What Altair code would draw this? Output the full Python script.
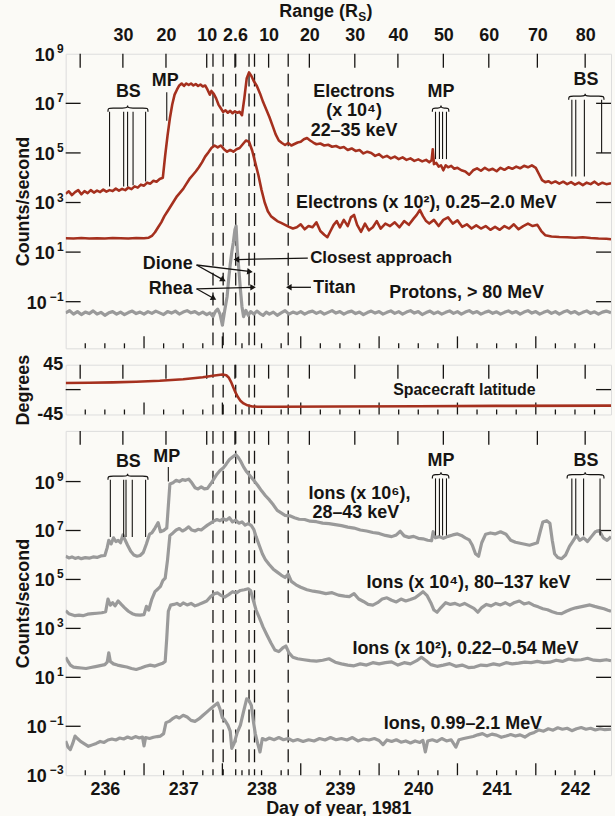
import math
import altair as alt
import pandas as pd

FONT = "Liberation Sans"
INK = "#161412"
RED = "#a5301e"
GRAY = "#9a9a9a"
BG = "#fbfaf6"

W = 548
H_TOP, H_MID, H_BOT = 296, 50, 346
X_DOMAIN = [236.0, 242.96]
TOP_LOG = (-2.88, 9.0)
BOT_LOG = (-3.0, 11.07)
MID_DOMAIN = [-45, 45]

# ---------------- data (day of year, log10 counts/s) ----------------
elec_keV = [
    (236.00, 3.35), (236.04, 3.45), (236.08, 3.3), (236.12, 3.42), (236.16, 3.5), (236.20, 3.33),
    (236.24, 3.46), (236.28, 3.38), (236.32, 3.5), (236.36, 3.4), (236.40, 3.48), (236.44, 3.42),
    (236.48, 3.52), (236.52, 3.44), (236.56, 3.5), (236.60, 3.46), (236.64, 3.56), (236.68, 3.48),
    (236.72, 3.55), (236.76, 3.5), (236.80, 3.6), (236.84, 3.54), (236.88, 3.65), (236.92, 3.6),
    (236.96, 3.72), (237.00, 3.68), (237.04, 3.8), (237.08, 3.76), (237.12, 3.88), (237.16, 3.84),
    (237.20, 3.95), (237.24, 4.0), (237.27, 4.9), (237.30, 5.7), (237.33, 6.4), (237.36, 6.95),
    (237.39, 7.35), (237.42, 7.55), (237.45, 7.72), (237.48, 7.8), (237.51, 7.7), (237.54, 7.8),
    (237.57, 7.74), (237.60, 7.8), (237.63, 7.72), (237.66, 7.78), (237.69, 7.7), (237.72, 7.76),
    (237.75, 7.68), (237.78, 7.72), (237.81, 7.55), (237.84, 7.35), (237.86, 7.5), (237.89, 7.38),
    (237.92, 7.2), (237.95, 6.95), (237.98, 6.8), (238.01, 6.65), (238.04, 6.72), (238.07, 6.62),
    (238.10, 6.7), (238.13, 6.6), (238.16, 6.68), (238.19, 6.62), (238.22, 6.66), (238.25, 6.52),
    (238.28, 7.2), (238.31, 8.0), (238.34, 8.25), (238.37, 8.1), (238.40, 7.9), (238.44, 7.7),
    (238.48, 7.4), (238.52, 7.05), (238.56, 6.75), (238.60, 6.45), (238.64, 6.1), (238.68, 5.75),
    (238.72, 5.5), (238.76, 5.4), (238.80, 5.32), (238.84, 5.4), (238.88, 5.3), (238.92, 5.36),
    (238.96, 5.42), (239.00, 5.45), (239.04, 5.55), (239.08, 5.6), (239.12, 5.5), (239.16, 5.42),
    (239.20, 5.35), (239.25, 5.38), (239.30, 5.3), (239.35, 5.33), (239.40, 5.25), (239.45, 5.28),
    (239.50, 5.2), (239.55, 5.24), (239.60, 5.12), (239.65, 5.18), (239.70, 5.08), (239.75, 5.12),
    (239.80, 4.98), (239.85, 5.05), (239.90, 5.0), (239.95, 4.88), (240.00, 4.95), (240.05, 4.82),
    (240.10, 4.88), (240.15, 4.78), (240.20, 4.85), (240.25, 4.75), (240.30, 4.82), (240.35, 4.72),
    (240.40, 4.78), (240.45, 4.68), (240.50, 4.74), (240.55, 4.66), (240.60, 4.72), (240.64, 4.62),
    (240.67, 4.7), (240.685, 5.15), (240.70, 4.55), (240.73, 4.6), (240.76, 4.45), (240.79, 4.5),
    (240.82, 4.3), (240.85, 4.5), (240.88, 4.42), (240.92, 4.48), (240.96, 4.36), (241.00, 4.4),
    (241.05, 4.3), (241.10, 4.25), (241.15, 4.12), (241.20, 4.3), (241.25, 4.38), (241.30, 4.28),
    (241.35, 4.4), (241.40, 4.3), (241.45, 4.36), (241.50, 4.26), (241.55, 4.4), (241.60, 4.32),
    (241.65, 4.42), (241.70, 4.36), (241.75, 4.45), (241.80, 4.38), (241.85, 4.48), (241.90, 4.42),
    (241.95, 4.5), (242.00, 4.4), (242.04, 4.15), (242.08, 3.9), (242.12, 3.82), (242.16, 3.86),
    (242.20, 3.78), (242.25, 3.85), (242.30, 3.76), (242.35, 3.84), (242.40, 3.74), (242.45, 3.82),
    (242.50, 3.72), (242.55, 3.8), (242.60, 3.7), (242.65, 3.8), (242.70, 3.74), (242.75, 3.84),
    (242.80, 3.72), (242.85, 3.8), (242.90, 3.74), (242.96, 3.78),
]

elec_MeV = [
    (236.00, 1.56), (236.10, 1.55), (236.20, 1.57), (236.30, 1.55), (236.40, 1.56), (236.50, 1.55),
    (236.60, 1.57), (236.70, 1.56), (236.80, 1.55), (236.90, 1.57), (237.00, 1.56), (237.06, 1.58),
    (237.10, 1.65), (237.14, 1.8), (237.18, 2.0), (237.22, 2.2), (237.26, 2.45), (237.30, 2.65),
    (237.34, 2.85), (237.38, 3.05), (237.42, 3.25), (237.46, 3.4), (237.50, 3.55), (237.54, 3.75),
    (237.58, 3.95), (237.62, 4.1), (237.66, 4.25), (237.70, 4.42), (237.74, 4.62), (237.78, 4.85),
    (237.82, 5.02), (237.86, 5.2), (237.90, 5.3), (237.94, 5.22), (237.98, 5.3), (238.02, 5.15),
    (238.06, 5.05), (238.10, 5.12), (238.14, 5.05), (238.18, 5.15), (238.22, 5.2), (238.26, 5.35),
    (238.30, 5.5), (238.34, 5.45), (238.38, 5.1), (238.42, 4.6), (238.46, 4.1), (238.50, 3.5),
    (238.54, 3.0), (238.58, 2.65), (238.62, 2.45), (238.66, 2.35), (238.70, 2.25), (238.75, 2.18),
    (238.80, 2.1), (238.85, 2.02), (238.90, 1.95), (238.95, 2.0), (239.00, 2.12), (239.05, 1.92),
    (239.10, 2.05), (239.15, 2.0), (239.20, 2.2), (239.25, 1.85), (239.30, 1.7), (239.34, 1.6),
    (239.38, 1.85), (239.42, 2.1), (239.46, 2.25), (239.50, 2.0), (239.55, 2.3), (239.60, 2.05),
    (239.64, 2.4), (239.68, 2.5), (239.72, 2.1), (239.77, 1.82), (239.82, 2.15), (239.87, 1.88),
    (239.92, 2.0), (239.97, 2.25), (240.02, 1.95), (240.08, 2.15), (240.14, 2.05), (240.20, 2.2),
    (240.26, 2.0), (240.32, 2.25), (240.38, 2.1), (240.44, 2.35), (240.48, 2.5), (240.52, 2.7),
    (240.56, 2.45), (240.60, 2.25), (240.64, 2.15), (240.70, 2.3), (240.76, 2.05), (240.82, 2.3),
    (240.88, 2.4), (240.94, 2.15), (241.00, 2.28), (241.06, 2.02), (241.12, 2.12), (241.18, 1.95),
    (241.24, 2.08), (241.30, 1.95), (241.36, 2.05), (241.42, 1.9), (241.48, 2.02), (241.54, 1.9),
    (241.60, 2.05), (241.66, 1.95), (241.72, 2.12), (241.78, 1.92), (241.84, 2.05), (241.90, 2.15),
    (241.96, 2.05), (242.02, 2.1), (242.07, 1.85), (242.12, 1.68), (242.20, 1.63), (242.30, 1.61),
    (242.40, 1.6), (242.50, 1.58), (242.60, 1.6), (242.70, 1.57), (242.80, 1.55), (242.90, 1.54),
    (242.96, 1.52),
]

protons = [
    (236.00, -1.45), (236.05, -1.36), (236.10, -1.5), (236.15, -1.4), (236.20, -1.52), (236.25, -1.42),
    (236.30, -1.48), (236.35, -1.37), (236.40, -1.5), (236.45, -1.43), (236.50, -1.55), (236.55, -1.45),
    (236.60, -1.4), (236.65, -1.5), (236.70, -1.42), (236.75, -1.52), (236.80, -1.44), (236.85, -1.38),
    (236.90, -1.48), (236.95, -1.42), (237.00, -1.5), (237.05, -1.4), (237.10, -1.47), (237.15, -1.38),
    (237.20, -1.45), (237.25, -1.52), (237.30, -1.4), (237.35, -1.46), (237.40, -1.38), (237.45, -1.5),
    (237.50, -1.42), (237.55, -1.36), (237.60, -1.45), (237.65, -1.4), (237.70, -1.5), (237.75, -1.42),
    (237.80, -1.52), (237.84, -1.45), (237.88, -1.6), (237.91, -1.4), (237.94, -1.3), (237.97, -1.5),
    (238.00, -1.95), (238.03, -1.35), (238.06, -0.8), (238.08, -0.1), (238.10, 0.5), (238.12, 1.0),
    (238.14, 1.4), (238.16, 1.9), (238.175, 2.05), (238.19, 1.1), (238.21, 0.3), (238.23, -0.5),
    (238.25, -1.2), (238.27, -1.6), (238.30, -1.35), (238.33, -1.55), (238.36, -1.4), (238.40, -1.5),
    (238.44, -1.38), (238.48, -1.48), (238.52, -1.55), (238.56, -1.42), (238.60, -1.5), (238.65, -1.42),
    (238.70, -1.55), (238.75, -1.45), (238.80, -1.36), (238.85, -1.5), (238.90, -1.42), (238.95, -1.48),
    (239.00, -1.4), (239.05, -1.5), (239.10, -1.42), (239.15, -1.38), (239.20, -1.47), (239.25, -1.4),
    (239.30, -1.5), (239.35, -1.43), (239.40, -1.36), (239.45, -1.46), (239.50, -1.4), (239.55, -1.5),
    (239.60, -1.42), (239.65, -1.38), (239.70, -1.48), (239.75, -1.42), (239.80, -1.52), (239.85, -1.44),
    (239.90, -1.38), (239.95, -1.46), (240.00, -1.4), (240.05, -1.5), (240.10, -1.43), (240.15, -1.37),
    (240.20, -1.47), (240.25, -1.4), (240.30, -1.5), (240.35, -1.42), (240.40, -1.36), (240.45, -1.46),
    (240.50, -1.4), (240.55, -1.52), (240.60, -1.44), (240.65, -1.38), (240.70, -1.48), (240.75, -1.41),
    (240.80, -1.5), (240.85, -1.43), (240.90, -1.37), (240.95, -1.47), (241.00, -1.4), (241.05, -1.5),
    (241.10, -1.42), (241.15, -1.36), (241.20, -1.46), (241.25, -1.4), (241.30, -1.5), (241.35, -1.43),
    (241.40, -1.38), (241.45, -1.47), (241.50, -1.41), (241.55, -1.5), (241.60, -1.43), (241.65, -1.37),
    (241.70, -1.46), (241.75, -1.4), (241.80, -1.5), (241.85, -1.42), (241.90, -1.36), (241.95, -1.46),
    (242.00, -1.4), (242.05, -1.5), (242.10, -1.43), (242.15, -1.37), (242.20, -1.47), (242.25, -1.4),
    (242.30, -1.5), (242.35, -1.42), (242.40, -1.36), (242.45, -1.46), (242.50, -1.4), (242.55, -1.5),
    (242.60, -1.43), (242.65, -1.37), (242.70, -1.47), (242.75, -1.41), (242.80, -1.5), (242.85, -1.42),
    (242.90, -1.38), (242.96, -1.45),
]

latitude = [
    (236.00, 12.0), (236.30, 12.3), (236.60, 13.0), (236.90, 14.2), (237.20, 16.0), (237.50, 18.8),
    (237.75, 22.5), (237.90, 25.5), (238.00, 27.3), (238.05, 26.0), (238.08, 22.0), (238.11, 14.0),
    (238.14, 4.0), (238.17, -6.0), (238.20, -14.0), (238.23, -20.0), (238.27, -25.0), (238.32, -28.5),
    (238.38, -30.5), (238.45, -31.0), (238.70, -31.0), (239.50, -30.6), (240.50, -30.0), (241.50, -29.5),
    (242.96, -29.0),
]

ions_28keV = [
    (236.00, 5.95), (236.04, 5.88), (236.08, 5.92), (236.12, 5.86), (236.16, 5.9), (236.20, 5.85),
    (236.25, 5.89), (236.30, 5.87), (236.35, 5.92), (236.40, 5.9), (236.45, 5.96), (236.50, 5.98),
    (236.53, 6.3), (236.55, 6.6), (236.58, 6.45), (236.61, 6.7), (236.64, 6.55), (236.67, 6.6),
    (236.70, 6.5), (236.73, 6.82), (236.76, 6.6), (236.79, 6.4), (236.83, 6.15), (236.87, 6.0),
    (236.91, 5.95), (236.95, 5.98), (236.99, 6.1), (237.03, 6.45), (237.07, 6.85), (237.10, 6.9),
    (237.14, 7.1), (237.18, 7.32), (237.21, 6.95), (237.25, 7.0), (237.29, 7.1), (237.31, 8.0),
    (237.33, 8.9), (237.37, 8.95), (237.41, 9.05), (237.45, 9.0), (237.49, 9.08), (237.53, 9.05),
    (237.57, 9.1), (237.61, 8.95), (237.65, 8.75), (237.69, 8.7), (237.73, 8.78), (237.77, 8.7),
    (237.81, 8.72), (237.85, 8.9), (237.89, 9.1), (237.93, 9.3), (237.97, 9.45), (238.01, 9.55),
    (238.05, 9.72), (238.09, 9.9), (238.13, 10.0), (238.17, 10.1), (238.20, 10.0), (238.23, 9.85),
    (238.27, 9.6), (238.31, 9.4), (238.35, 9.25), (238.40, 9.05), (238.45, 8.85), (238.50, 8.62),
    (238.55, 8.42), (238.60, 8.25), (238.65, 8.05), (238.70, 7.82), (238.75, 7.72), (238.80, 7.62),
    (238.86, 7.6), (238.92, 7.52), (238.98, 7.46), (239.05, 7.45), (239.12, 7.38), (239.20, 7.36),
    (239.28, 7.3), (239.36, 7.28), (239.44, 7.24), (239.52, 7.2), (239.60, 7.14), (239.68, 7.1),
    (239.76, 7.02), (239.84, 6.98), (239.92, 6.92), (240.00, 6.88), (240.08, 6.8), (240.16, 6.75),
    (240.22, 6.82), (240.27, 6.97), (240.32, 6.78), (240.38, 6.72), (240.44, 6.76), (240.50, 6.68),
    (240.56, 6.66), (240.62, 6.6), (240.67, 6.58), (240.69, 6.95), (240.72, 6.7), (240.77, 6.75),
    (240.82, 6.68), (240.88, 6.76), (240.94, 6.82), (241.00, 6.86), (241.05, 6.8), (241.10, 6.7),
    (241.15, 6.62), (241.19, 6.4), (241.23, 6.05), (241.27, 5.95), (241.31, 6.5), (241.36, 6.85),
    (241.42, 6.9), (241.48, 6.86), (241.55, 6.95), (241.62, 6.85), (241.68, 6.6), (241.74, 6.52),
    (241.80, 6.48), (241.86, 6.44), (241.92, 6.4), (241.97, 6.45), (242.02, 6.5), (242.06, 7.0),
    (242.09, 7.35), (242.14, 7.4), (242.18, 7.3), (242.21, 6.6), (242.24, 6.05), (242.28, 5.9),
    (242.33, 5.85), (242.38, 6.0), (242.43, 6.35), (242.47, 6.55), (242.52, 6.8), (242.56, 6.6),
    (242.61, 6.7), (242.66, 6.55), (242.71, 6.75), (242.76, 6.95), (242.81, 7.0), (242.86, 6.7),
    (242.91, 6.6), (242.96, 6.75),
]

ions_80keV = [
    (236.00, 3.72), (236.04, 3.6), (236.08, 3.56), (236.12, 3.52), (236.17, 3.54), (236.22, 3.52),
    (236.28, 3.58), (236.34, 3.6), (236.40, 3.62), (236.46, 3.64), (236.51, 3.68), (236.54, 4.2),
    (236.57, 3.95), (236.60, 4.05), (236.63, 3.92), (236.67, 4.12), (236.71, 3.98), (236.75, 3.85),
    (236.80, 3.7), (236.85, 3.6), (236.90, 3.55), (236.95, 3.54), (237.00, 3.56), (237.03, 3.9),
    (237.06, 3.75), (237.10, 4.2), (237.14, 4.5), (237.18, 4.62), (237.21, 4.72), (237.24, 4.95),
    (237.27, 5.05), (237.30, 5.8), (237.33, 6.8), (237.37, 6.9), (237.41, 7.02), (237.45, 7.08),
    (237.49, 6.98), (237.53, 7.05), (237.57, 7.15), (237.61, 7.02), (237.65, 6.98), (237.69, 7.05),
    (237.73, 7.02), (237.77, 7.12), (237.81, 7.22), (237.85, 7.3), (237.89, 7.38), (237.93, 7.45),
    (237.97, 7.4), (238.01, 7.48), (238.05, 7.42), (238.09, 7.52), (238.13, 7.35), (238.17, 7.42),
    (238.21, 7.3), (238.25, 7.35), (238.29, 7.22), (238.33, 7.28), (238.37, 7.2), (238.40, 7.05),
    (238.43, 6.75), (238.47, 6.4), (238.51, 6.05), (238.55, 5.8), (238.60, 5.6), (238.65, 5.42),
    (238.70, 5.3), (238.75, 5.18), (238.80, 5.08), (238.84, 5.22), (238.88, 4.92), (238.94, 4.78),
    (239.00, 4.68), (239.08, 4.58), (239.16, 4.52), (239.24, 4.48), (239.32, 4.42), (239.40, 4.46),
    (239.48, 4.36), (239.56, 4.32), (239.62, 4.3), (239.68, 4.42), (239.74, 4.2), (239.80, 4.1),
    (239.86, 3.98), (239.92, 3.95), (239.98, 4.05), (240.04, 4.2), (240.10, 4.25), (240.16, 4.15),
    (240.22, 4.08), (240.28, 4.2), (240.34, 4.12), (240.40, 4.18), (240.46, 4.25), (240.52, 4.4),
    (240.56, 4.5), (240.61, 4.35), (240.66, 4.05), (240.70, 3.75), (240.74, 3.66), (240.79, 3.85),
    (240.85, 4.05), (240.91, 3.98), (240.97, 4.02), (241.03, 3.94), (241.09, 4.02), (241.15, 3.92),
    (241.21, 3.82), (241.26, 3.66), (241.31, 3.85), (241.37, 3.98), (241.43, 3.92), (241.49, 4.02),
    (241.55, 3.96), (241.61, 4.05), (241.67, 3.95), (241.73, 4.06), (241.79, 4.12), (241.85, 4.0),
    (241.91, 4.05), (241.97, 3.95), (242.03, 3.88), (242.09, 3.8), (242.15, 3.76), (242.21, 3.68),
    (242.27, 3.62), (242.33, 3.6), (242.39, 3.7), (242.45, 3.78), (242.51, 3.84), (242.57, 3.88),
    (242.63, 3.92), (242.69, 3.96), (242.75, 3.9), (242.81, 3.85), (242.87, 3.8), (242.92, 3.74),
    (242.96, 3.7),
]

ions_022MeV = [
    (236.00, 1.82), (236.03, 1.65), (236.06, 1.5), (236.10, 1.42), (236.15, 1.4), (236.20, 1.38),
    (236.26, 1.36), (236.32, 1.4), (236.38, 1.44), (236.44, 1.48), (236.50, 1.52), (236.53, 1.62),
    (236.55, 2.0), (236.57, 1.65), (236.61, 1.55), (236.66, 1.5), (236.72, 1.46), (236.78, 1.42),
    (236.84, 1.36), (236.90, 1.32), (236.96, 1.38), (237.02, 1.45), (237.08, 1.5), (237.14, 1.46),
    (237.19, 1.52), (237.24, 1.58), (237.27, 1.65), (237.29, 2.6), (237.31, 3.7), (237.34, 3.95),
    (237.38, 3.98), (237.42, 4.02), (237.46, 3.94), (237.50, 4.04), (237.55, 3.96), (237.60, 4.02),
    (237.65, 3.92), (237.70, 3.98), (237.75, 4.05), (237.80, 4.12), (237.85, 4.3), (237.90, 4.42),
    (237.94, 4.45), (237.98, 4.35), (238.03, 4.28), (238.08, 4.38), (238.13, 4.5), (238.18, 4.45),
    (238.23, 4.55), (238.28, 4.58), (238.33, 4.62), (238.36, 4.55), (238.39, 4.2), (238.43, 3.75),
    (238.47, 3.45), (238.52, 3.05), (238.57, 2.72), (238.62, 2.4), (238.67, 2.12), (238.72, 2.05),
    (238.77, 2.2), (238.81, 2.28), (238.85, 2.0), (238.90, 1.82), (238.96, 1.76), (239.04, 1.72),
    (239.12, 1.68), (239.20, 1.66), (239.28, 1.7), (239.36, 1.76), (239.44, 1.62), (239.52, 1.55),
    (239.60, 1.5), (239.68, 1.47), (239.76, 1.55), (239.84, 1.5), (239.92, 1.6), (240.00, 1.55),
    (240.08, 1.6), (240.16, 1.63), (240.24, 1.5), (240.32, 1.6), (240.40, 1.55), (240.48, 1.68),
    (240.54, 1.82), (240.60, 1.68), (240.66, 1.52), (240.74, 1.45), (240.82, 1.5), (240.90, 1.56),
    (240.98, 1.45), (241.06, 1.5), (241.14, 1.4), (241.22, 1.42), (241.30, 1.5), (241.38, 1.48),
    (241.46, 1.55), (241.54, 1.5), (241.62, 1.6), (241.70, 1.55), (241.78, 1.58), (241.86, 1.62),
    (241.94, 1.6), (242.02, 1.65), (242.10, 1.6), (242.18, 1.62), (242.26, 1.7), (242.34, 1.65),
    (242.42, 1.75), (242.50, 1.7), (242.58, 1.72), (242.66, 1.78), (242.74, 1.7), (242.82, 1.68),
    (242.90, 1.72), (242.96, 1.68),
]

ions_099MeV = [
    (236.00, -1.6), (236.03, -1.85), (236.06, -1.95), (236.09, -1.7), (236.12, -1.4), (236.15, -1.5),
    (236.19, -1.62), (236.24, -1.72), (236.29, -1.82), (236.34, -1.76), (236.39, -1.7), (236.44, -1.62),
    (236.49, -1.66), (236.54, -1.56), (236.59, -1.52), (236.64, -1.56), (236.69, -1.48), (236.74, -1.52),
    (236.79, -1.44), (236.84, -1.5), (236.89, -1.42), (236.94, -1.48), (236.98, -1.44), (237.00, -1.8),
    (237.02, -1.46), (237.07, -1.5), (237.12, -1.45), (237.17, -1.42), (237.21, -1.4), (237.25, -1.3),
    (237.28, -0.85), (237.32, -0.8), (237.36, -0.7), (237.41, -0.6), (237.45, -0.66), (237.50, -0.55),
    (237.55, -0.62), (237.60, -0.76), (237.65, -0.8), (237.70, -0.7), (237.75, -0.56), (237.80, -0.42),
    (237.85, -0.28), (237.90, -0.15), (237.94, -0.05), (237.97, -0.3), (238.00, -0.65), (238.03, -0.75),
    (238.07, -0.95), (238.10, -1.2), (238.12, -1.9), (238.15, -1.7), (238.19, -1.25), (238.23, -0.95),
    (238.27, -0.4), (238.31, 0.12), (238.34, 0.05), (238.37, -0.15), (238.40, -0.9), (238.42, -1.3),
    (238.45, -1.7), (238.48, -2.05), (238.51, -1.5), (238.55, -1.56), (238.60, -1.48), (238.66, -1.55),
    (238.72, -1.46), (238.78, -1.55), (238.84, -1.5), (238.90, -1.6), (238.96, -1.54), (239.03, -1.62),
    (239.10, -1.55), (239.17, -1.6), (239.24, -1.5), (239.31, -1.56), (239.38, -1.46), (239.45, -1.55),
    (239.52, -1.5), (239.59, -1.56), (239.66, -1.46), (239.73, -1.6), (239.80, -1.52), (239.87, -1.56),
    (239.94, -1.5), (240.00, -1.58), (240.05, -1.75), (240.10, -1.56), (240.16, -1.62), (240.22, -1.55),
    (240.28, -1.65), (240.34, -1.6), (240.40, -1.68), (240.46, -1.6), (240.52, -1.66), (240.56, -1.58),
    (240.59, -2.05), (240.62, -1.6), (240.68, -1.55), (240.74, -1.62), (240.80, -1.5), (240.86, -1.6),
    (240.92, -1.55), (240.98, -1.85), (241.02, -1.55), (241.08, -1.5), (241.14, -1.46), (241.20, -1.42),
    (241.26, -1.35), (241.32, -1.3), (241.38, -1.4), (241.44, -1.32), (241.50, -1.36), (241.56, -1.45),
    (241.62, -1.4), (241.68, -1.34), (241.74, -1.4), (241.80, -1.35), (241.86, -1.44), (241.92, -1.32),
    (241.98, -1.25), (242.04, -1.15), (242.10, -1.2), (242.16, -1.1), (242.22, -1.16), (242.28, -1.06),
    (242.34, -1.12), (242.40, -1.08), (242.46, -1.18), (242.52, -1.1), (242.58, -1.05), (242.64, -1.12),
    (242.70, -1.08), (242.76, -1.15), (242.82, -1.1), (242.88, -1.14), (242.96, -1.12),
]

# ---------------- axes / annotation values ----------------
range_tick_days = [236.185, 236.73, 237.28, 237.80, 238.16, 238.59, 239.11, 239.69, 240.24,
                   240.82, 241.40, 242.02, 242.63]
range_tick_labels = ["", "30", "20", "10", "2.6", "10", "20", "30", "40", "50", "60", "70", "80"]
day_label_pos = [236.5, 237.5, 238.5, 239.5, 240.5, 241.5, 242.5]
day_major = [237, 238, 239, 240, 241, 242]
day_minor = [q / 4 for q in range(945, 972) if q % 4]
event_days = [237.88, 238.01, 238.17, 238.34, 238.41, 238.84]  # Rhea, Dione, CA, Dione, Rhea, Titan

top_label_exps = [9, 7, 5, 3, 1, -1]
bot_label_exps = [9, 7, 5, 3, 1, -1, -3]
top_left_ticks = [-1, 1, 3, 5, 7]
top_right_ticks = [-1, 1, 3, 5, 7]
bot_left_ticks = [-1, 1, 3, 5, 7, 9]
bot_right_ticks = [-1, 1, 3, 5, 7]

# boundary crossings: (day, log top, log bottom)
top_marks = [
    (236.56, 6.66, 3.65), (236.74, 6.66, 3.65), (236.79, 6.66, 3.65), (236.86, 6.66, 3.7), (237.02, 6.66, 3.85),
    (237.29, 7.45, 6.3),
    (240.72, 6.66, 4.75), (240.77, 6.66, 4.75), (240.81, 6.66, 4.75), (240.86, 6.66, 4.75),
    (242.46, 7.14, 4.05), (242.51, 7.14, 4.05), (242.62, 7.14, 4.05), (242.84, 7.14, 5.0),
]
bot_marks = [
    (236.57, 9.07, 6.73), (236.74, 9.07, 6.73), (236.77, 9.07, 6.73), (236.85, 9.07, 6.73), (237.02, 9.07, 6.73),
    (237.31, 9.6, 9.0),
    (240.72, 9.13, 6.8), (240.77, 9.13, 6.8), (240.81, 9.13, 6.8), (240.86, 9.13, 6.8),
    (242.46, 9.13, 6.8), (242.51, 9.13, 6.8), (242.61, 9.13, 6.8), (242.82, 9.13, 6.8),
]
# braces: (left day, mid day, right day, base log)
top_braces = [(236.54, 236.79, 237.05, 6.66), (240.68, 240.79, 240.89, 6.66), (242.42, 242.63, 242.87, 7.14)]
bot_braces = [(236.54, 236.79, 237.05, 9.07), (240.68, 240.79, 240.89, 9.13), (242.40, 242.63, 242.87, 9.13)]

top_text_center = [("Electrons", 239.68, 7.44), ("(x 10⁴)", 239.68, 6.68), ("22–35 keV", 239.68, 5.88),
                   ("BS", 236.80, 7.45), ("MP", 237.27, 7.9), ("MP", 240.79, 7.45), ("BS", 242.64, 7.95)]
top_text_left = [("Electrons (x 10²), 0.25–2.0 MeV", 238.94, 2.98),
                 ("Titan", 239.16, -0.45), ("Protons, > 80 MeV", 240.13, -0.67)]
top_text_left_small = [("Closest approach", 239.12, 0.77)]
top_text_right = [("Dione", 237.62, 0.52), ("Rhea", 237.62, -0.47)]
# arrows: (from day, from log, to day, to log)
arrows = [(237.67, 0.48, 238.00, -0.1), (237.67, 0.48, 238.34, 0.22),
          (237.67, -0.48, 237.88, -0.85), (237.67, -0.48, 238.38, -0.42),
          (239.09, 0.76, 238.19, 0.7), (239.13, -0.42, 238.86, -0.42)]

bot_text_center = [("BS", 236.80, 9.8), ("MP", 237.29, 10.02), ("MP", 240.79, 9.85), ("BS", 242.64, 9.85)]
bot_text_left = [("Ions (x 10⁶),", 239.10, 8.5), ("28–43 keV", 239.15, 7.7),
                 ("Ions (x 10⁴), 80–137 keV", 239.84, 4.87), ("Ions (x 10²), 0.22–0.54 MeV", 239.66, 2.17),
                 ("Ions, 0.99–2.1 MeV", 240.06, -0.89)]
mid_text_left = [("Spacecraft latitude", 240.18, 0)]

# ---------------- helpers ----------------
XS = alt.Scale(domain=X_DOMAIN, nice=False, zero=False)
YS_TOP = alt.Scale(type="log", domain=[10 ** TOP_LOG[0], 10 ** TOP_LOG[1]], nice=False)
YS_BOT = alt.Scale(type="log", domain=[10 ** BOT_LOG[0], 10 ** BOT_LOG[1]], nice=False)
YS_MID = alt.Scale(domain=MID_DOMAIN, nice=False, zero=False)
PX_DAY = W / (X_DOMAIN[1] - X_DOMAIN[0])
PX_DEC_TOP = H_TOP / (TOP_LOG[1] - TOP_LOG[0])
FS = 18

LBL = dict(labelFont=FONT, labelFontSize=FS, labelFontWeight="bold", labelColor=INK,
           titleFont=FONT, titleFontSize=FS, titleFontWeight="bold", titleColor=INK)


def title_axis(title, labels=False, **kw):
    return alt.Axis(title=title, labels=labels, ticks=False, domain=False, grid=False,
                    titleX=-33, titleBaseline="bottom", labelFlush=False, labelOverlap=False, **LBL, **kw)


def top_range_axis():
    parts = [f"abs(datum.value - {d}) < 0.001 ? '{lab}'" for d, lab in zip(range_tick_days, range_tick_labels)]
    return alt.Axis(orient="top", values=range_tick_days, labelExpr=" : ".join(parts) + " : ''",
                    ticks=False, domain=False, grid=False, labelPadding=9, labelFlush=False,
                    labelOverlap=False, title=None, **LBL)


def day_axis():
    return alt.Axis(orient="bottom", values=day_label_pos, labelExpr="'' + floor(datum.value)",
                    ticks=False, domain=False, grid=False, labelPadding=5, labelFlush=False,
                    title="Day of year, 1981", titlePadding=1, **LBL)


class Panel:
    def __init__(self, h, yscale, x_axis, y_axis):
        self.h, self.ys, self.xa, self.ya = h, yscale, x_axis, y_axis
        self.layers = []

    def x(self, field="day"):
        return alt.X(f"{field}:Q", scale=XS, axis=self.xa)

    def y(self, field="v"):
        return alt.Y(f"{field}:Q", scale=self.ys, axis=self.ya)

    def add(self, layer):
        self.layers.append(layer)

    def frame(self, left_vals, right_vals):
        h = self.h
        rule = dict(color=INK, strokeWidth=1.3)
        self.add(alt.Chart(pd.DataFrame({"day": range_tick_days})).mark_rule(**rule).encode(
            x=self.x(), y=alt.value(0), y2=alt.value(14)))
        self.add(alt.Chart(pd.DataFrame({"day": day_major})).mark_rule(**rule).encode(
            x=self.x(), y=alt.value(h), y2=alt.value(h - 12)))
        self.add(alt.Chart(pd.DataFrame({"day": day_minor})).mark_rule(**rule).encode(
            x=self.x(), y=alt.value(h), y2=alt.value(h - 5)))
        self.add(alt.Chart(pd.DataFrame({"v": left_vals})).mark_rule(**rule).encode(
            y=self.y(), x=alt.value(0), x2=alt.value(15)))
        self.add(alt.Chart(pd.DataFrame({"v": right_vals})).mark_rule(**rule).encode(
            y=self.y(), x=alt.value(W - 15), x2=alt.value(W)))
        self.add(alt.Chart(pd.DataFrame({"day": event_days})).mark_rule(
            color=INK, strokeWidth=1.3, strokeDash=[13, 7]).encode(
            x=self.x(), y=alt.value(0), y2=alt.value(h)))

    def pow_labels(self, exps):
        one = [e for e in exps if e >= 0]
        two = [e for e in exps if e < 0]
        exp_df = pd.DataFrame({"v": [10.0 ** e for e in exps],
                               "t": [str(e) if e >= 0 else "−" + str(-e) for e in exps]})
        for group, xoff in ((one, -11), (two, -19)):
            if group:
                self.add(alt.Chart(pd.DataFrame({"v": [10.0 ** e for e in group], "t": ["10"] * len(group)}))
                         .mark_text(font=FONT, fontSize=FS, fontWeight="bold", color=INK, align="right",
                                    baseline="middle", dy=2).encode(
                    y=self.y(), x=alt.value(xoff), text="t:N"))
        self.add(alt.Chart(exp_df).mark_text(font=FONT, fontSize=12, fontWeight="bold", color=INK,
                                             align="right", baseline="middle", dy=-5).encode(
            y=self.y(), x=alt.value(-2), text="t:N"))

    def line(self, pairs, color, width, log=True):
        df = pd.DataFrame({"day": [p[0] for p in pairs],
                           "v": [10 ** p[1] if log else p[1] for p in pairs]})
        self.add(alt.Chart(df).mark_line(color=color, strokeWidth=width, clip=True,
                                         strokeJoin="round").encode(
            x=self.x(), y=self.y(), order="day:Q"))

    def text(self, items, align, size=FS, log=True):
        df = pd.DataFrame({"t": [i[0] for i in items], "day": [i[1] for i in items],
                           "v": [10 ** i[2] if log else i[2] for i in items]})
        self.add(alt.Chart(df).mark_text(font=FONT, fontSize=size, fontWeight="bold", color=INK,
                                         align=align, baseline="middle").encode(
            x=self.x(), y=self.y(), text="t:N"))

    def marks(self, items):
        df = pd.DataFrame({"day": [m[0] for m in items], "v": [10 ** m[1] for m in items],
                           "v2": [10 ** m[2] for m in items]})
        self.add(alt.Chart(df).mark_rule(color=INK, strokeWidth=1.1).encode(
            x=self.x(), y=self.y(), y2="v2:Q"))

    def braces(self, items, hgt=0.3, e=0.05):
        rows = []
        for g, (xl, xm, xr, b) in enumerate(items):
            pts = [(xl, b), (xl, b + hgt * 0.5), (xl + e, b + hgt * 0.5), (xm - e, b + hgt * 0.5),
                   (xm, b + hgt * 0.5), (xm, b + hgt), (xm, b + hgt * 0.5), (xm + e, b + hgt * 0.5),
                   (xr - e, b + hgt * 0.5), (xr, b + hgt * 0.5), (xr, b)]
            for k, (d, l) in enumerate(pts):
                rows.append({"g": g, "k": k, "day": d, "v": 10 ** l})
        self.add(alt.Chart(pd.DataFrame(rows)).mark_line(
            color=INK, strokeWidth=1.2, interpolate="basis").encode(
            x=self.x(), y=self.y(), detail="g:N", order="k:Q"))

    def chart(self):
        return alt.layer(*self.layers).properties(width=W, height=self.h)


# ---------------- top panel ----------------
tp = Panel(H_TOP, YS_TOP, top_range_axis(), title_axis("Counts/second"))
tp.frame([10 ** e for e in top_left_ticks], [10 ** e for e in top_right_ticks])
tp.pow_labels(top_label_exps)
tp.line(protons, GRAY, 3.2)
tp.line(elec_MeV, RED, 2.6)
tp.line(elec_keV, RED, 2.6)
tp.marks(top_marks)
tp.braces(top_braces)
tp.text(top_text_center, "center")
tp.text(top_text_left, "left")
tp.text(top_text_left_small, "left", size=17)
tp.text(top_text_right, "right")
arr_df = pd.DataFrame({"day": [a[0] for a in arrows], "v": [10 ** a[1] for a in arrows],
                       "d2": [a[2] for a in arrows], "v2": [10 ** a[3] for a in arrows]})
arr_df["ang"] = [math.degrees(math.atan2((a[2] - a[0]) * PX_DAY, (a[3] - a[1]) * PX_DEC_TOP)) % 360
                 for a in arrows]
tp.add(alt.Chart(arr_df).mark_rule(color=INK, strokeWidth=1.3).encode(
    x=tp.x(), x2="d2:Q", y=tp.y(), y2="v2:Q"))
tp.add(alt.Chart(arr_df).mark_point(shape="triangle", filled=True, size=42, color=INK, opacity=1).encode(
    x=tp.x("d2"), y=tp.y("v2"), angle=alt.Angle("ang:Q", scale=None)))
title_parts = [("Range (R", 239.73, 18, -42, "right"), ("S", 239.735, 12, -37, "left"),
               (")", 239.84, 18, -42, "left")]
for t, d, s, dy, al in title_parts:
    tp.add(alt.Chart(pd.DataFrame({"t": [t], "day": [d]})).mark_text(
        font=FONT, fontSize=s, fontWeight="bold", color=INK, align=al, baseline="middle").encode(
        x=tp.x(), y=alt.value(dy), text="t:N"))
top = tp.chart()

# ---------------- middle panel ----------------
mid_axis = title_axis("Degrees", labels=True, values=[-45, 45],
                      labelExpr="datum.value < 0 ? '-45' : '45'", labelPadding=3)
mp = Panel(H_MID, YS_MID, None, mid_axis)
mp.frame([0], [0])
mp.line(latitude, RED, 2.6, log=False)
mp.text(mid_text_left, "left", size=16, log=False)
mid = mp.chart()

# ---------------- bottom panel ----------------
bp = Panel(H_BOT, YS_BOT, day_axis(), title_axis("Counts/second"))
bp.frame([10 ** e for e in bot_left_ticks], [10 ** e for e in bot_right_ticks])
bp.pow_labels(bot_label_exps)
bp.line(ions_099MeV, GRAY, 3.2)
bp.line(ions_022MeV, GRAY, 3.2)
bp.line(ions_80keV, GRAY, 3.2)
bp.line(ions_28keV, GRAY, 3.2)
bp.marks(bot_marks)
bp.braces(bot_braces)
bp.text(bot_text_center, "center")
bp.text(bot_text_left, "left")
bot = bp.chart()

chart = alt.vconcat(top, mid, bot, spacing=16.5, bounds="flush").properties(
    background=BG, padding={"left": 14, "top": 0, "right": 2, "bottom": 2}
).configure_view(stroke=INK, strokeWidth=1.5).configure(font=FONT)

chart.save("out.html", embed_options={"renderer": "svg", "actions": False})
